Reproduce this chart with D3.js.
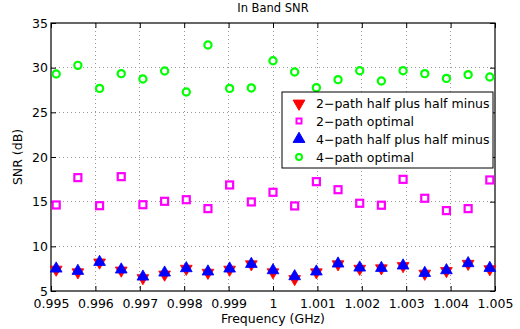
<!DOCTYPE html>
<html>
<head>
<meta charset="utf-8">
<script src="https://cdn.jsdelivr.net/npm/d3@7"></script>
<style>
  body { margin: 0; background: #fff; }
  text { font-family: "DejaVu Sans", sans-serif; }
</style>
</head>
<body>
<div class="chart"></div>
<script>
// frequency points (GHz)
var freqs = [0.995117, 0.995605, 0.996094, 0.996582, 0.997070, 0.997559, 0.998047,
             0.998535, 0.999023, 0.999512, 1.000000, 1.000488, 1.000977, 1.001465,
             1.001953, 1.002441, 1.002930, 1.003418, 1.003906, 1.004395, 1.004883];

var twoPathHalf = [7.4, 7.1, 8.2, 7.3, 6.45, 6.85, 7.5, 7.05, 7.4, 8.0,
                   7.1, 6.35, 7.1, 8.0, 7.5, 7.55, 7.8, 6.95, 7.25, 8.05, 7.45];
var twoPathOpt = [14.63, 17.69, 14.55, 17.8, 14.66, 15.04, 15.22, 14.22, 16.87, 14.97,
                  16.05, 14.52, 17.24, 16.34, 14.82, 14.6, 17.5, 15.38, 14.0, 14.22, 17.43];
var fourPathHalf = [7.5, 7.24, 8.24, 7.39, 6.6, 7.05, 7.54, 7.17, 7.5, 8.02,
                    7.31, 6.64, 7.17, 8.06, 7.61, 7.57, 7.84, 7.01, 7.31, 8.1, 7.57];
var fourPathOpt = [29.29, 30.26, 27.68, 29.33, 28.73, 29.63, 27.28, 32.54, 27.68, 27.73,
                   30.78, 29.52, 27.76, 28.66, 29.66, 28.51, 29.66, 29.33, 28.80, 29.22, 28.96];

var xTicks = [0.995, 0.996, 0.997, 0.998, 0.999, 1, 1.001, 1.002, 1.003, 1.004, 1.005];
var yTicks = [5, 10, 15, 20, 25, 30, 35];
var legendLabels = ["2\u2212path half plus half minus", "2\u2212path optimal",
                    "4\u2212path half plus half minus", "4\u2212path optimal"];

var width = 520, height = 329;
var margin = {top: 23, right: 25, bottom: 38, left: 51};
var w = width - margin.left - margin.right,
    h = height - margin.top - margin.bottom;

var svg = d3.select(".chart").append("svg")
    .attr("width", width)
    .attr("height", height);
var g = svg.append("g")
    .attr("transform", "translate(" + margin.left + "," + margin.top + ")");

var x = d3.scaleLinear().domain([0.995, 1.005]).range([0, w]);
var y = d3.scaleLinear().domain([5, 35]).range([h, 0]);

// grid
g.selectAll(".gx").data(xTicks.slice(1, -1)).enter().append("line")
    .attr("x1", function (d) { return x(d); }).attr("x2", function (d) { return x(d); })
    .attr("y1", 0).attr("y2", h)
    .style("stroke", "#999").style("stroke-dasharray", "1,3").style("shape-rendering", "crispEdges");
g.selectAll(".gy").data(yTicks.slice(1, -1)).enter().append("line")
    .attr("x1", 0).attr("x2", w)
    .attr("y1", function (d) { return y(d); }).attr("y2", function (d) { return y(d); })
    .style("stroke", "#999").style("stroke-dasharray", "1,3").style("shape-rendering", "crispEdges");

// axes with inward ticks
var xAxis = d3.axisBottom(x).tickValues(xTicks).tickSizeInner(-5).tickSizeOuter(0)
    .tickFormat(function (d) { return d === 1 ? "1" : d3.format(".3f")(d); });
var yAxis = d3.axisLeft(y).tickValues(yTicks).tickSizeInner(-5).tickSizeOuter(0);
var xTop = d3.axisTop(x).tickValues(xTicks).tickSizeInner(-5).tickSizeOuter(0).tickFormat("");
var yRight = d3.axisRight(y).tickValues(yTicks).tickSizeInner(-5).tickSizeOuter(0).tickFormat("");

var xg = g.append("g").attr("transform", "translate(0," + h + ")").call(xAxis);
var yg = g.append("g").call(yAxis);
g.append("g").call(xTop);
g.append("g").attr("transform", "translate(" + w + ",0)").call(yRight);

g.selectAll(".domain").remove();
g.selectAll(".tick line").style("stroke", "#000");
xg.selectAll("text").attr("dy", "0.95em").attr("y", 5)
    .style("font-size", "12.5px").style("fill", "#000");
yg.selectAll("text").attr("x", -3).style("font-size", "12.5px").style("fill", "#000");

g.append("rect").attr("width", w).attr("height", h)
    .style("fill", "none").style("stroke", "#000").style("stroke-width", 1.2);

// markers
var triUp = d3.symbol().type(d3.symbolTriangle).size(60);

g.selectAll(".red").data(twoPathHalf).enter().append("path")
    .attr("d", triUp)
    .attr("transform", function (d, i) { return "translate(" + x(freqs[i]) + "," + y(d) + ") rotate(180)"; })
    .style("fill", "#ff0000").style("stroke", "#ff0000").style("stroke-width", 0.8);

g.selectAll(".mag").data(twoPathOpt).enter().append("rect")
    .attr("x", function (d, i) { return x(freqs[i]) - 3.5; })
    .attr("y", function (d) { return y(d) - 3.5; })
    .attr("width", 7).attr("height", 7)
    .style("fill", "#fff").style("stroke", "#ff00ff").style("stroke-width", 2.2);

g.selectAll(".blue").data(fourPathHalf).enter().append("path")
    .attr("d", triUp)
    .attr("transform", function (d, i) { return "translate(" + x(freqs[i]) + "," + y(d) + ")"; })
    .style("fill", "#0000ff").style("stroke", "#0000ff").style("stroke-width", 0.8);

g.selectAll(".grn").data(fourPathOpt).enter().append("circle")
    .attr("cx", function (d, i) { return x(freqs[i]); })
    .attr("cy", function (d) { return y(d); })
    .attr("r", 3.6)
    .style("fill", "#fff").style("stroke", "#00ff00").style("stroke-width", 2.2);

// labels
svg.append("text").attr("x", 273).attr("y", 12).attr("text-anchor", "middle")
    .style("font-size", "11.5px").text("In Band SNR");
svg.append("text").attr("x", 273).attr("y", 323).attr("text-anchor", "middle")
    .style("font-size", "12.5px").text("Frequency (GHz)");
svg.append("text").attr("transform", "translate(22,157) rotate(-90)").attr("text-anchor", "middle")
    .style("font-size", "12.5px").text("SNR (dB)");

// legend
var lg = svg.append("g").attr("transform", "translate(282,92)");
lg.append("rect").attr("width", 211).attr("height", 76)
    .style("fill", "#fff").style("stroke", "#000").style("stroke-width", 1);
var rows = [11.5, 29, 47, 65];
lg.append("path").attr("d", triUp).attr("transform", "translate(17," + rows[0] + ") rotate(180)")
    .style("fill", "#ff0000").style("stroke", "#ff0000");
lg.append("rect").attr("x", 14.5).attr("y", rows[1] - 2.5).attr("width", 5).attr("height", 5)
    .style("fill", "#fff").style("stroke", "#ff00ff").style("stroke-width", 2);
lg.append("path").attr("d", triUp).attr("transform", "translate(17," + rows[2] + ")")
    .style("fill", "#0000ff").style("stroke", "#0000ff");
lg.append("circle").attr("cx", 17).attr("cy", rows[3]).attr("r", 3)
    .style("fill", "#fff").style("stroke", "#00ff00").style("stroke-width", 2);
lg.selectAll(".lt").data(legendLabels).enter().append("text")
    .attr("x", 34).attr("y", function (d, i) { return rows[i] + 4.5; })
    .style("font-size", "12.5px").text(function (d) { return d; });
</script>
</body>
</html>
